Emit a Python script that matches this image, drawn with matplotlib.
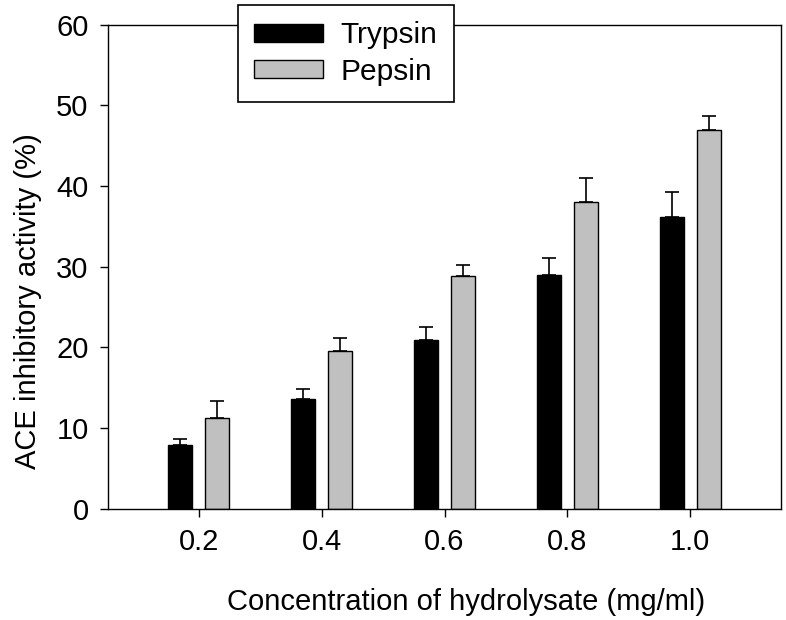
import matplotlib
matplotlib.use("Agg")
import matplotlib.pyplot as plt
import numpy as np

plt.rcParams['font.family'] = ['Liberation Sans', 'DejaVu Sans']

categories = ["0.2", "0.4", "0.6", "0.8", "1.0"]
trypsin = [7.9, 13.6, 20.9, 29.0, 36.1]
trypsin_err = [0.8, 1.2, 1.6, 2.1, 3.1]
pepsin = [11.3, 19.6, 28.9, 38.0, 46.9]
pepsin_err = [2.1, 1.5, 1.3, 3.0, 1.8]

fig = plt.figure(figsize=(7.86, 6.2), dpi=100)
ax = fig.add_axes([108/786, 1 - 508.7/620, (781-108)/786, (508.7-24.7)/620])

x = np.arange(len(categories))
w = 0.195
off = 0.15
err_kw = dict(ecolor='black', elinewidth=1.2, capsize=4.8, capthick=1.2)
b1 = ax.bar(x - off, trypsin, w, color='black', edgecolor='black', linewidth=1.0,
            label='Trypsin', zorder=2)
ax.errorbar(x - off, trypsin, yerr=[np.zeros(len(x)), trypsin_err], fmt='none', zorder=1, **err_kw)
b2 = ax.bar(x + off, pepsin, w, color='#C0C0C0', edgecolor='black', linewidth=1.0,
            label='Pepsin', zorder=2)
ax.errorbar(x + off, pepsin, yerr=[np.zeros(len(x)), pepsin_err], fmt='none', zorder=1, **err_kw)

ax.set_xlim(-0.74, 4.74)
ax.set_ylim(0, 60)
ax.set_yticks(range(0, 61, 10))
ax.set_xticks(x)
ax.set_xticklabels(categories)
ax.tick_params(axis='both', direction='out', length=6, width=1.0, labelsize=21, colors='black')
ax.tick_params(axis='x', pad=8)
ax.tick_params(axis='y', pad=8)
for s in ax.spines.values():
    s.set_linewidth(1.0)

fig.text(466/786, 1 - 602/620, "Concentration of hydrolysate (mg/ml)", fontsize=21,
         ha='center', va='center')
fig.text(28/786, 1 - 301/620, "ACE inhibitory activity (%)", fontsize=21,
         ha='center', va='center', rotation=90)

leg = fig.legend(handles=[b1, b2], loc='upper left', bbox_to_anchor=(238/786, 1 - 5/620),
                 bbox_transform=fig.transFigure, borderaxespad=0, fontsize=21.5,
                 frameon=True, fancybox=False, edgecolor='black', framealpha=1,
                 handlelength=2.3, handleheight=0.52, handletextpad=0.58,
                 labelspacing=0.28, borderpad=0.55)
leg.get_frame().set_linewidth(1.2)
leg.set_zorder(10)

fig.savefig("out.png", dpi=100)
